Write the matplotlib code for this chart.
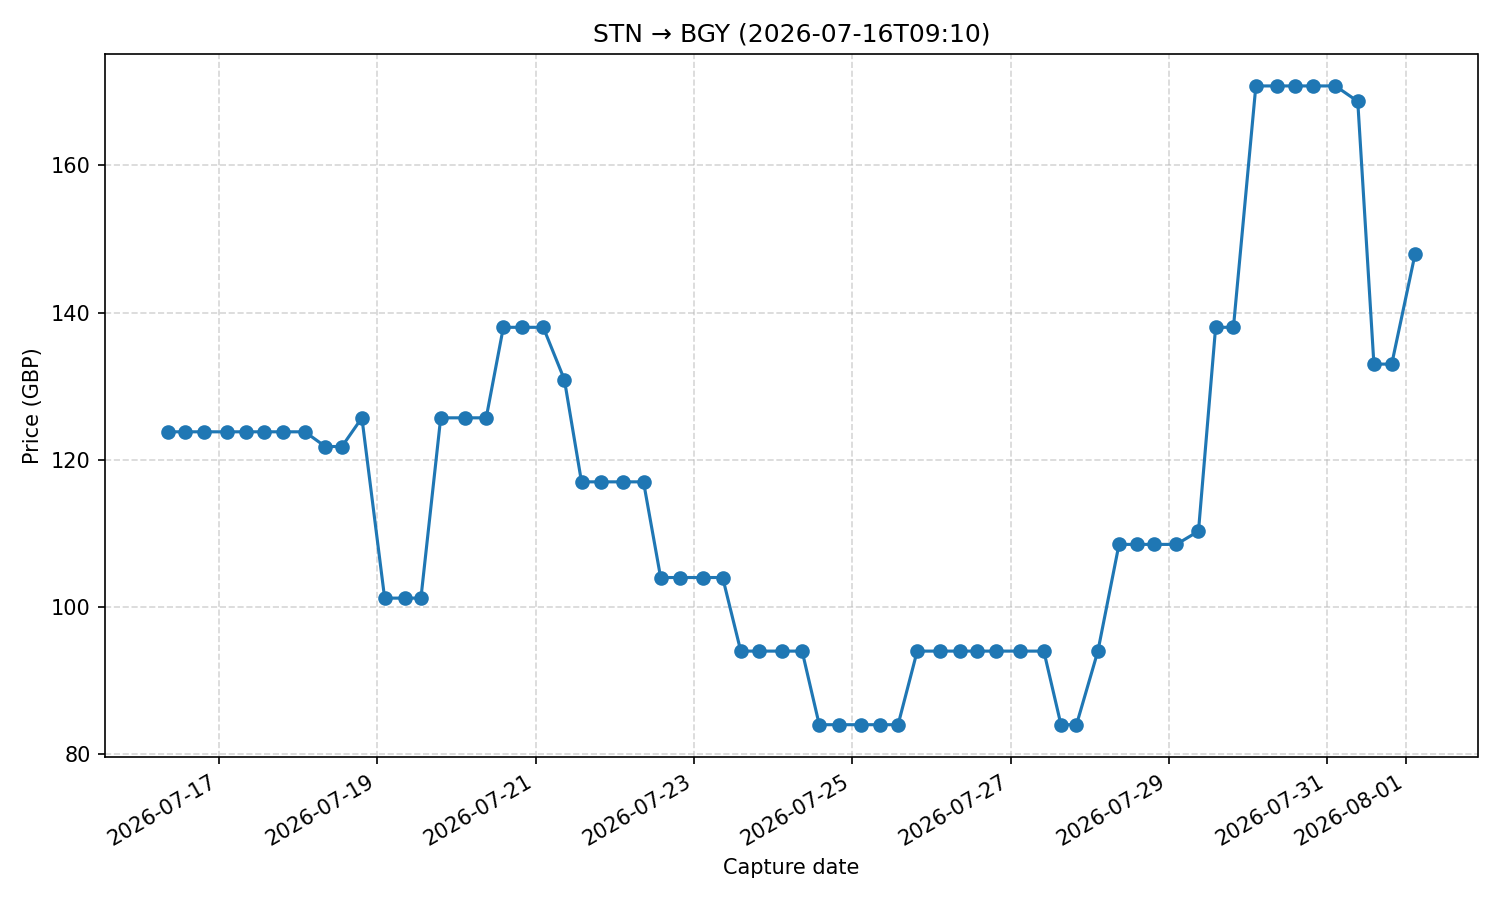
import matplotlib
matplotlib.use("Agg")
import matplotlib.pyplot as plt
import pandas as pd

# capture timestamps
captures = [
    "2026-07-16 08:24", "2026-07-16 13:33", "2026-07-16 19:19", "2026-07-17 02:19",
    "2026-07-17 08:05", "2026-07-17 13:40", "2026-07-17 19:19", "2026-07-18 02:00",
    "2026-07-18 08:12", "2026-07-18 13:15", "2026-07-18 19:18", "2026-07-19 02:12",
    "2026-07-19 08:24", "2026-07-19 13:12", "2026-07-19 19:12", "2026-07-20 02:36",
    "2026-07-20 09:00", "2026-07-20 14:12", "2026-07-20 19:48", "2026-07-21 02:18",
    "2026-07-21 08:42", "2026-07-21 13:54", "2026-07-21 19:42", "2026-07-22 02:24",
    "2026-07-22 08:42", "2026-07-22 13:54", "2026-07-22 19:42", "2026-07-23 02:42",
    "2026-07-23 08:42", "2026-07-23 14:12", "2026-07-23 19:36", "2026-07-24 02:36",
    "2026-07-24 08:48", "2026-07-24 14:00", "2026-07-24 20:00", "2026-07-25 02:42",
    "2026-07-25 08:30", "2026-07-25 13:54", "2026-07-25 19:42", "2026-07-26 02:36",
    "2026-07-26 08:42", "2026-07-26 13:42", "2026-07-26 19:42", "2026-07-27 03:00",
    "2026-07-27 10:06", "2026-07-27 15:18", "2026-07-27 20:00", "2026-07-28 02:30",
    "2026-07-28 08:54", "2026-07-28 14:18", "2026-07-28 19:36", "2026-07-29 02:18",
    "2026-07-29 09:00", "2026-07-29 14:12", "2026-07-29 19:36", "2026-07-30 02:24",
    "2026-07-30 08:42", "2026-07-30 14:12", "2026-07-30 19:36", "2026-07-31 02:30",
    "2026-07-31 09:18", "2026-07-31 14:12", "2026-07-31 19:36", "2026-08-01 02:42",
]

prices = [
    123.8, 123.8, 123.8, 123.8, 123.8, 123.8, 123.8, 123.8,
    121.8, 121.8, 125.7, 101.2, 101.2, 101.2, 125.7, 125.7,
    125.7, 138.0, 138.0, 138.0, 130.9, 117.0, 117.0, 117.0,
    117.0, 104.0, 104.0, 104.0, 104.0, 94.0, 94.0, 94.0,
    94.0, 84.0, 84.0, 84.0, 84.0, 84.0, 94.0, 94.0,
    94.0, 94.0, 94.0, 94.0, 94.0, 84.0, 84.0, 94.0,
    108.5, 108.5, 108.5, 108.5, 110.3, 138.0, 138.0, 170.8,
    170.8, 170.8, 170.8, 170.8, 168.7, 133.0, 133.0, 148.0,
]

route = "STN \u2192 BGY"
depart = "2026-07-16T09:10"

dates = pd.to_datetime(captures)

fig, ax = plt.subplots(figsize=(10, 6), dpi=150)
ax.plot(dates, prices, marker="o")
ax.set_title(f"{route} ({depart})")
ax.set_xlabel("Capture date")
ax.set_ylabel("Price (GBP)")
ax.grid(True, linestyle="--", alpha=0.5)
fig.autofmt_xdate()
fig.tight_layout()
fig.savefig("out.png")
